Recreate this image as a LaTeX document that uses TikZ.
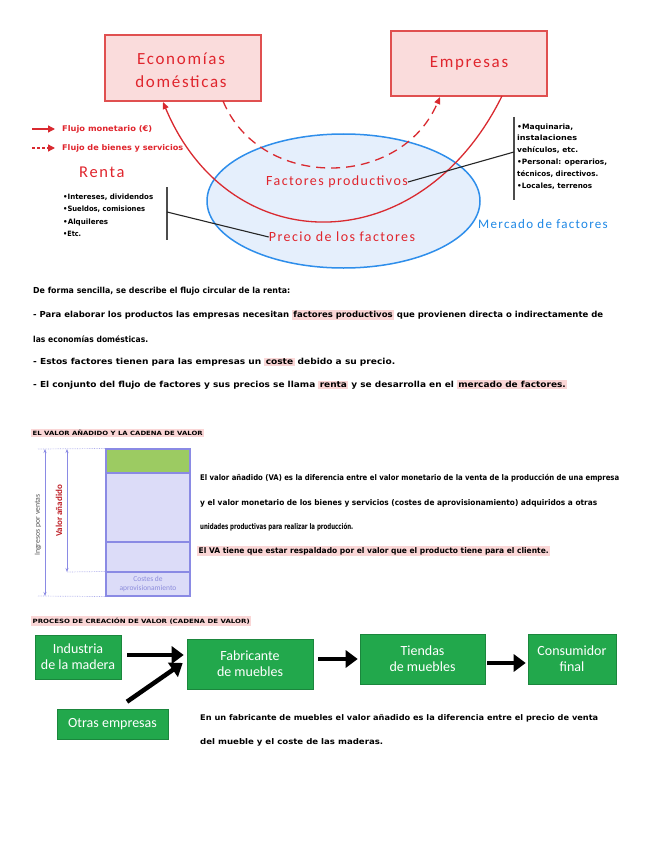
\documentclass[tikz,border=0pt]{standalone}
\usepackage{graphicx}
\usepackage{fontspec}
\setmainfont{Carlito}
\newfontfamily\hwfont{DejaVu Sans}
\newfontfamily\lblfont[LetterSpace=10]{Carlito}
\usetikzlibrary{arrows.meta,shapes.geometric}
\definecolor{boxpink}{HTML}{FADCDC}
\definecolor{boxred}{HTML}{E05050}
\definecolor{txtred}{HTML}{E0252D}
\definecolor{curvered}{HTML}{D92A30}
\definecolor{ellfill}{HTML}{E5EFFC}
\definecolor{ellblue}{HTML}{2E8EEB}
\definecolor{merblue}{HTML}{1E88E5}
\definecolor{hlpink}{HTML}{FAD6D6}
\definecolor{grbox}{HTML}{22A84C}
\definecolor{barlav}{HTML}{DCDCF8}
\definecolor{barline}{HTML}{8A8AE4}
\definecolor{bargreen}{HTML}{9CCB62}
\definecolor{costtxt}{HTML}{8C8CDC}
\newcommand{\hlpk}[1]{{\setlength{\fboxsep}{1.2pt}\colorbox{hlpink}{#1}}}
\newcommand{\hwl}[2]{\resizebox{#1}{\height}{#2}}
\begin{document}
\begin{tikzpicture}[x=1pt,y=-1pt,
  redbox/.style={draw=boxred, fill=boxpink, line width=1.3pt, text=txtred, align=center, inner sep=0pt},
  lbl/.style={text=txtred, inner sep=0pt},
  hw/.style={anchor=west, inner sep=0pt, font=\hwfont\fontsize{8.3}{10}\selectfont\bfseries, text=black},
  small/.style={anchor=west, inner sep=0pt, font=\hwfont\fontsize{7.3}{9}\selectfont\bfseries, text=black},
  para/.style={anchor=west, inner sep=0pt, font=\hwfont\fontsize{7.8}{9}\selectfont\bfseries, text=black},
  legend/.style={anchor=west, inner sep=0pt, font=\hwfont\fontsize{7.8}{10}\selectfont\bfseries, text=txtred},
  title/.style={anchor=west, inner sep=0pt, font=\hwfont\fontsize{5.8}{7}\selectfont\bfseries, text=black},
  flow/.style={curvered, line width=1.3pt},
  greenbox/.style={draw=grbox!80!black, fill=grbox, text=white, align=center, inner sep=0pt, font=\fontsize{14}{16}\selectfont, line width=0.6pt},
  bigarrow/.style={line width=4.5pt, -{Triangle[length=12pt,width=17pt]}},
  bar/.style={draw=barline, line width=1.1pt, minimum width=84pt, inner sep=0pt},
  lavarrow/.style={barline, line width=0.8pt, {Stealth[length=4pt,width=3pt]}-{Stealth[length=4pt,width=3pt]}},
  dotl/.style={barline!70, line width=0.7pt, densely dotted},
  conn/.style={black!85, line width=1.1pt}
]
\useasboundingbox (0,0) rectangle (656,848);
\fill[white] (0,0) rectangle (656,848);

% ---------- circular flow ----------
\node[redbox, minimum width=156pt, minimum height=66pt] (eco) at (183,68) {};
\node[lbl, font=\lblfont\fontsize{17}{19}\selectfont] (ecot1) at (181,59) {Economías};
\node[lbl, font=\lblfont\fontsize{17}{19}\selectfont] (ecot2) at (181,82) {domésticas};
\node[redbox, minimum width=156pt, minimum height=65pt, font=\lblfont\fontsize{17}{19}\selectfont] (emp) at (469,63.5) {Empresas};

\node[draw=ellblue, fill=ellfill, line width=1.5pt, ellipse, minimum width=273pt, minimum height=134pt, inner sep=0pt] (mkt) at (343.5,201) {};

\coordinate (s1) at (502,96);
\coordinate (s2) at (163,102);
\coordinate (d1) at (223,101);
\coordinate (d2) at (440,97);
\draw[flow, -{Triangle[length=7pt,width=6pt]}] (s1) .. controls (420,262) and (230,262) .. (s2);
\draw[flow, dash pattern=on 9pt off 6pt, -{Triangle[length=7pt,width=6pt]}] (d1) .. controls (260,190) and (400,190) .. (d2);

\node[lbl, font=\lblfont\fontsize{14}{16}\selectfont] (fp) at (337,182) {Factores productivos};
\node[lbl, font=\lblfont\fontsize{14}{16}\selectfont] (pf) at (342,237) {Precio de los factores};
\node[inner sep=0pt, text=merblue, font=\lblfont\fontsize{13}{15}\selectfont] (mer) at (543,224) {Mercado de factores};

% legend
\coordinate (la1) at (32,129); \coordinate (lb1) at (55,129);
\coordinate (la2) at (32,148); \coordinate (lb2) at (55,148);
\draw[flow, -{Triangle[length=7pt,width=7pt]}] (la1) -- (lb1);
\draw[flow, dash pattern=on 3pt off 2pt, -{Triangle[length=7pt,width=7pt]}] (la2) -- (lb2);
\node[legend] (lg1) at (62,129) {\hwl{90pt}{Flujo monetario (€)}};
\node[legend] (lg2) at (62,148) {\hwl{121pt}{Flujo de bienes y servicios}};
\node[lbl, font=\lblfont\fontsize{16.5}{18}\selectfont, anchor=west] (renta) at (79,172) {Renta};

% left bullets
\node[small] (lb1t) at (63,197) {\hwl{90pt}{•Intereses, dividendos}};
\node[small] (lb2t) at (63,209) {\hwl{82pt}{•Sueldos, comisiones}};
\node[small] (lb3t) at (63,222) {\hwl{45pt}{•Alquileres}};
\node[small] (lb4t) at (63,234) {\hwl{18pt}{•Etc.}};
\coordinate (vl1) at (167,187); \coordinate (vl2) at (167,240);
\draw[conn, black!70, line width=1.4pt] (vl1) -- (vl2);
\coordinate (cl1) at (167,212);
\draw[conn] (cl1) -- (pf.west);

% right bullets
\node[small] (rb1) at (517,127) {\hwl{56pt}{•Maquinaria,}};
\node[small] (rb2) at (517,138) {\hwl{60pt}{instalaciones}};
\node[small] (rb3) at (517,150) {\hwl{61pt}{vehículos, etc.}};
\node[small] (rb4) at (517,162) {\hwl{90pt}{•Personal: operarios,}};
\node[small] (rb5) at (517,174) {\hwl{81pt}{técnicos, directivos.}};
\node[small] (rb6) at (517,186) {\hwl{75pt}{•Locales, terrenos}};
\coordinate (vr1) at (514,117); \coordinate (vr2) at (514,200);
\draw[conn, black!70, line width=1.4pt] (vr1) -- (vr2);
\coordinate (cr1) at (514,152);
\draw[conn] (cr1) -- (fp.east);

% ---------- paragraph 1 ----------
\node[hw] (p1) at (33,291) {\hwl{257pt}{De forma sencilla, se describe el flujo circular de la renta:}};
\node[hw] (p2) at (33,315) {\hwl{570pt}{- Para elaborar los productos las empresas necesitan \hlpk{factores productivos} que provienen directa o indirectamente de}};
\node[hw] (p3) at (33,339) {\hwl{115pt}{las economías domésticas.}};
\node[hw] (p4) at (33,362) {\hwl{362pt}{- Estos factores tienen para las empresas un \hlpk{coste} debido a su precio.}};
\node[hw] (p5) at (33,385) {\hwl{534pt}{- El conjunto del flujo de factores y sus precios se llama \hlpk{renta} y se desarrolla en el \hlpk{mercado de factores.}}};

% ---------- value added ----------
\node[title] (t1) at (31,433) {\setlength{\fboxsep}{1.5pt}\colorbox{hlpink}{\hwl{170pt}{EL VALOR AÑADIDO Y LA CADENA DE VALOR}}};

\node[bar, fill=bargreen, minimum height=24pt] (vg) at (148,461) {};
\node[bar, fill=barlav, minimum height=69pt] (v1) at (148,507.5) {};
\node[bar, fill=barlav, minimum height=30pt] (v2) at (148,557) {};
\node[bar, fill=barlav, minimum height=24pt, align=center, text=costtxt, font=\fontsize{7.5}{9}\selectfont] (v3) at (148,584) {Costes de\\aprovisionamiento};

\coordinate (dt) at (38,449);
\coordinate (dm) at (67,572);
\coordinate (db) at (38,596);
\draw[dotl] (dt) -- (vg.north west);
\draw[dotl] (dm) -- (v3.north west);
\draw[dotl] (db) -- (v3.south west);
\coordinate (a1t) at (45,449); \coordinate (a1b) at (45,596);
\coordinate (a2t) at (67,449); \coordinate (a2b) at (67,572);
\draw[lavarrow] (a1t) -- (a1b);
\draw[lavarrow] (a2t) -- (a2b);
\node[rotate=90, inner sep=0pt, text=black!65, font=\fontsize{7.8}{9}\selectfont] (ing) at (38,525) {Ingresos por ventas};
\node[rotate=90, inner sep=0pt, text=txtred!85!black, font=\fontsize{9}{10}\selectfont\bfseries] (va) at (59,511) {Valor añadido};

\node[para] (q1) at (200,478) {\hwl{419pt}{El valor añadido (VA) es la diferencia entre el valor monetario de la venta de la producción de una empresa}};
\node[para] (q2) at (200,503) {\hwl{397pt}{y el valor monetario de los bienes y servicios (costes de aprovisionamiento) adquiridos a otras}};
\node[para] (q3) at (200,527) {\hwl{153pt}{unidades productivas para realizar la producción.}};
\node[para] (q4) at (197,551) {\setlength{\fboxsep}{1.5pt}\colorbox{hlpink}{\hwl{350pt}{El VA tiene que estar respaldado por el valor que el producto tiene para el cliente.}}};

% ---------- value chain ----------
\node[title] (t2) at (31,621) {\setlength{\fboxsep}{1.5pt}\colorbox{hlpink}{\hwl{217pt}{PROCESO DE CREACIÓN DE VALOR (CADENA DE VALOR)}}};

\node[greenbox, minimum width=86pt, minimum height=44pt] (ind) at (78,657) {Industria\\de la madera};
\node[greenbox, minimum width=126pt, minimum height=50pt] (fab) at (250,664) {Fabricante\\de muebles};
\node[greenbox, minimum width=125pt, minimum height=50pt] (tie) at (422.5,659) {Tiendas\\de muebles};
\node[greenbox, minimum width=88pt, minimum height=50pt] (con) at (572,659) {Consumidor\\final};
\node[greenbox, minimum width=111pt, minimum height=30pt] (otr) at (112.5,724) {Otras empresas};

\draw[bigarrow] ([xshift=6pt,yshift=2pt]ind.east) -- ([xshift=-3pt]fab.west |- 0,655);
\draw[bigarrow] ([xshift=14.5pt,yshift=7pt]otr.north) -- ([xshift=-4pt,yshift=1pt]fab.west);
\draw[bigarrow] ([xshift=5pt]fab.east |- tie.west) -- ([xshift=-2pt]tie.west);
\draw[bigarrow] ([xshift=2pt,yshift=-4pt]tie.east) -- ([xshift=-2pt,yshift=-4pt]con.west);

\node[para] (r1) at (200,718) {\hwl{398pt}{En un fabricante de muebles el valor añadido es la diferencia entre el precio de venta}};
\node[para] (r2) at (200,742) {\hwl{183pt}{del mueble y el coste de las maderas.}};
\end{tikzpicture}
\end{document}
